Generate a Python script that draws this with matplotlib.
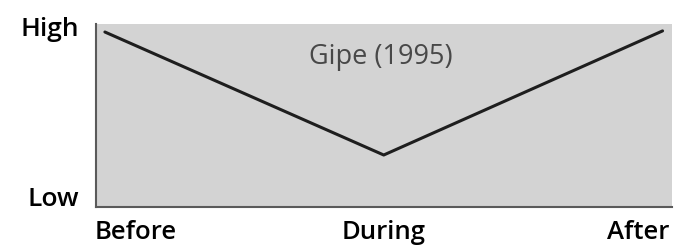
import matplotlib.pyplot as plt
from matplotlib.transforms import ScaledTranslation

phases = ["Before", "During", "After"]
level = [0.956, 0.284, 0.962]
ytick_pos = [0.06, 0.985]
ytick_labels = ["Low", "High"]
title = "Gipe (1995)"

plt.rcParams['font.family'] = ['Open Sans', 'DejaVu Sans']

fig = plt.figure(figsize=(6.75, 2.47), dpi=100)
ax = fig.add_axes([0.1422, 0.162, 0.8534, 0.741])
ax.set_facecolor("#d3d3d3")

x = list(range(len(phases)))
ax.plot(x, level, color="#1e1e1e", lw=2.2, solid_capstyle="round")

ax.set_xlim(-0.032, 2.034)
ax.set_ylim(0, 1)

ax.text(0.99, 0.78, title, ha="center", va="baseline", fontsize=19.5, color="#484848")

ax.set_xticks(x)
ax.set_xticklabels(phases, fontsize=18.5, weight="semibold")
ax.set_yticks(ytick_pos)
ax.set_yticklabels(ytick_labels, fontsize=19, weight="semibold", va="center_baseline")
ax.tick_params(length=0, pad=12)
ax.tick_params(axis="x", pad=9.5)

labs = ax.get_xticklabels()
labs[0].set_ha("left")
labs[0].set_transform(labs[0].get_transform() + ScaledTranslation(-0.10, 0, fig.dpi_scale_trans))
labs[2].set_ha("right")
labs[2].set_transform(labs[2].get_transform() + ScaledTranslation(0.07, 0, fig.dpi_scale_trans))

for s in ["top", "right"]:
    ax.spines[s].set_visible(False)
for s in ["left", "bottom"]:
    ax.spines[s].set_color("#5a5a5a")
    ax.spines[s].set_linewidth(1.5)

fig.savefig("out.png", dpi=100)
